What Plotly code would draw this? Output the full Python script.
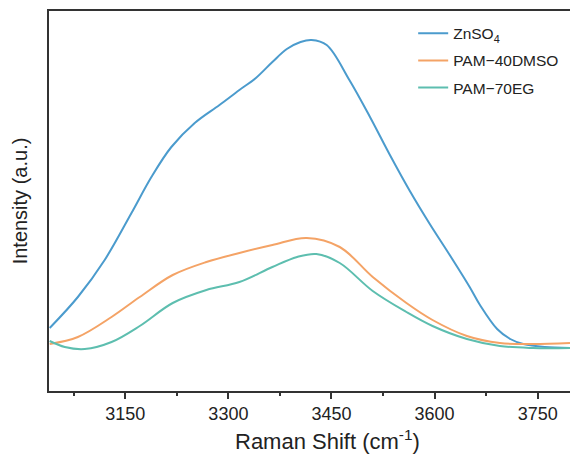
import plotly.graph_objects as go

# ZnSO4
zn_x = [3040, 3081, 3120, 3159, 3188, 3217, 3251, 3287, 3316, 3340, 3364, 3385, 3405, 3421, 3443,
        3476, 3506, 3535, 3564, 3593, 3622, 3651, 3666, 3691, 3710, 3729, 3760, 3797]
zn_y = [63, 94, 131, 178, 214, 244, 268, 286, 301, 313, 329, 342, 349, 351, 346,
        311, 274, 236, 200, 167, 136, 104, 86, 62, 52, 47, 44, 43]

# PAM-40DMSO
dm_x = [3040, 3081, 3130, 3171, 3219, 3268, 3316, 3364, 3414, 3462, 3510, 3559,
        3597, 3647, 3695, 3743, 3797]
dm_y = [47, 54, 74, 94, 116, 129, 138, 146, 153, 144, 114, 88,
        71, 55, 48, 47, 48]

# PAM-70EG
eg_x = [3040, 3062, 3091, 3130, 3171, 3219, 3268, 3316, 3364, 3400, 3428, 3462, 3510,
        3559, 3597, 3647, 3695, 3743, 3797]
eg_y = [50, 44, 42, 49, 65, 88, 101, 109, 124, 134, 137, 128, 100,
        79, 65, 52, 45, 43, 43]

names = ["ZnSO<sub>4</sub>", "PAM\u221240DMSO", "PAM\u221270EG"]
colors = ["#4B9BCD", "#F4A366", "#5DBEAF"]

fig = go.Figure()
for i, (xs, ys) in enumerate([(zn_x, zn_y), (dm_x, dm_y), (eg_x, eg_y)]):
    fig.add_trace(go.Scatter(
        x=xs, y=ys, mode="lines", name=names[i], legendgroup=f"g{i}",
        line=dict(color=colors[i], width=2, shape="spline", smoothing=1.0),
    ))

font_family = "Liberation Sans, Arial, sans-serif"
fig.update_layout(
    width=570, height=459,
    margin=dict(l=49, r=0, t=11, b=68),
    plot_bgcolor="white", paper_bgcolor="white",
    font=dict(family=font_family, color="#222222"),
    showlegend=True,
    legend=dict(
        x=0.699, y=0.985, xanchor="left", yanchor="top",
        bgcolor="rgba(0,0,0,0)", borderwidth=0,
        font=dict(size=15.5, color="#222222", family=font_family),
        tracegroupgap=4,
    ),
    xaxis=dict(
        range=[3039, 3797],
        tick0=3150, dtick=150,
        ticks="outside", ticklen=6, tickwidth=1.5, tickcolor="#333333",
        showline=True, linecolor="#333333", linewidth=1.5, mirror=True,
        showgrid=False, zeroline=False,
        tickfont=dict(size=18, color="#222222"),
        minor=dict(ticks="outside", ticklen=3, tickwidth=1.5, tickcolor="#333333", dtick=75, tick0=3075, showgrid=False),
    ),
    yaxis=dict(
        range=[0, 380],
        showticklabels=False, ticks="",
        showline=True, linecolor="#333333", linewidth=1.5, mirror=False,
        showgrid=False, zeroline=False,
        title=dict(text="Intensity (a.u.)", font=dict(size=20, color="#222222"), standoff=14),
    ),
)

fig.add_annotation(
    text="Raman Shift (cm<sup>-1</sup>)", xref="paper", yref="paper",
    x=0.534, y=-0.128, xanchor="center", yanchor="middle", showarrow=False,
    font=dict(size=22, color="#222222", family=font_family),
)

fig.write_html("out.html")
